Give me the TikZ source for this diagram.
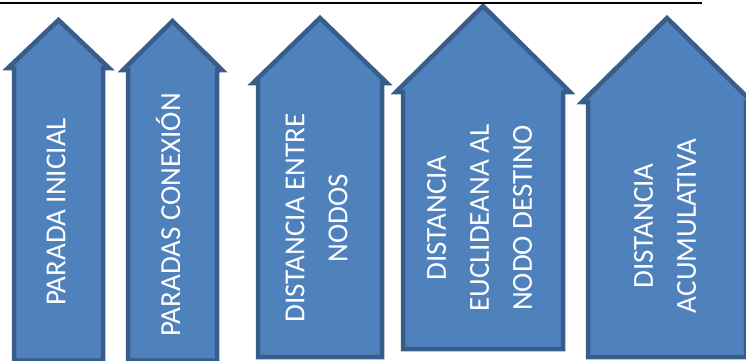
\documentclass[tikz,border=0pt]{standalone}
\usepackage{fontspec}
\setmainfont{Carlito}
\definecolor{boxfill}{HTML}{4F81BD}
\definecolor{boxline}{HTML}{385D8A}
\tikzset{
  arrowbox/.style={fill=boxfill, draw=boxline, line width=4.5pt, line join=miter},
  label/.style={rotate=90, text=white, align=center, inner sep=0pt, anchor=center,
    font=\fontsize{29}{43}\selectfont},
  rule/.style={draw=black, line width=2.3pt}
}
% block arrow pointing up: centre x, shaft half width, head half width,
% head base y, tip y, bottom y
\newcommand\blockarrow[6]{%
  \draw[arrowbox] ({#1-#2},#6) -- ({#1-#2},#4) -- ({#1-#3},#4) -- (#1,#5)
    -- ({#1+#3},#4) -- ({#1+#2},#4) -- ({#1+#2},#6) -- cycle;}
\begin{document}
\begin{tikzpicture}[x=1pt, y=-1pt]
  \useasboundingbox (0,0) rectangle (746,360);
  \blockarrow{58.5}{44.5}{50.5}{68}{20}{360.5}
  \blockarrow{172.5}{44.5}{49.5}{70}{21}{360.5}
  \blockarrow{320}{62}{67}{83}{18}{357}
  \blockarrow{483}{80}{87}{92}{6}{349}
  \blockarrow{667}{79}{85}{102}{18}{357}
  \node[label] (t1) at (56,212) {PARADA INICIAL};
  \node[label] (t2) at (168,215) {PARADAS CONEXIÓN};
  \node[label] (t3) at (316.5,218) {DISTANCIA ENTRE\\NODOS};
  \node[label] (t4) at (479.5,218) {DISTANCIA\\EUCLIDEANA AL\\NODO DESTINO};
  \node[label] (t5) at (665,226) {DISTANCIA\\ACUMULATIVA};
  \coordinate (ruleL) at (0,2.8);
  \coordinate (ruleR) at (702,2.8);
  \draw[rule] (ruleL) -- (ruleR);
\end{tikzpicture}
\end{document}
